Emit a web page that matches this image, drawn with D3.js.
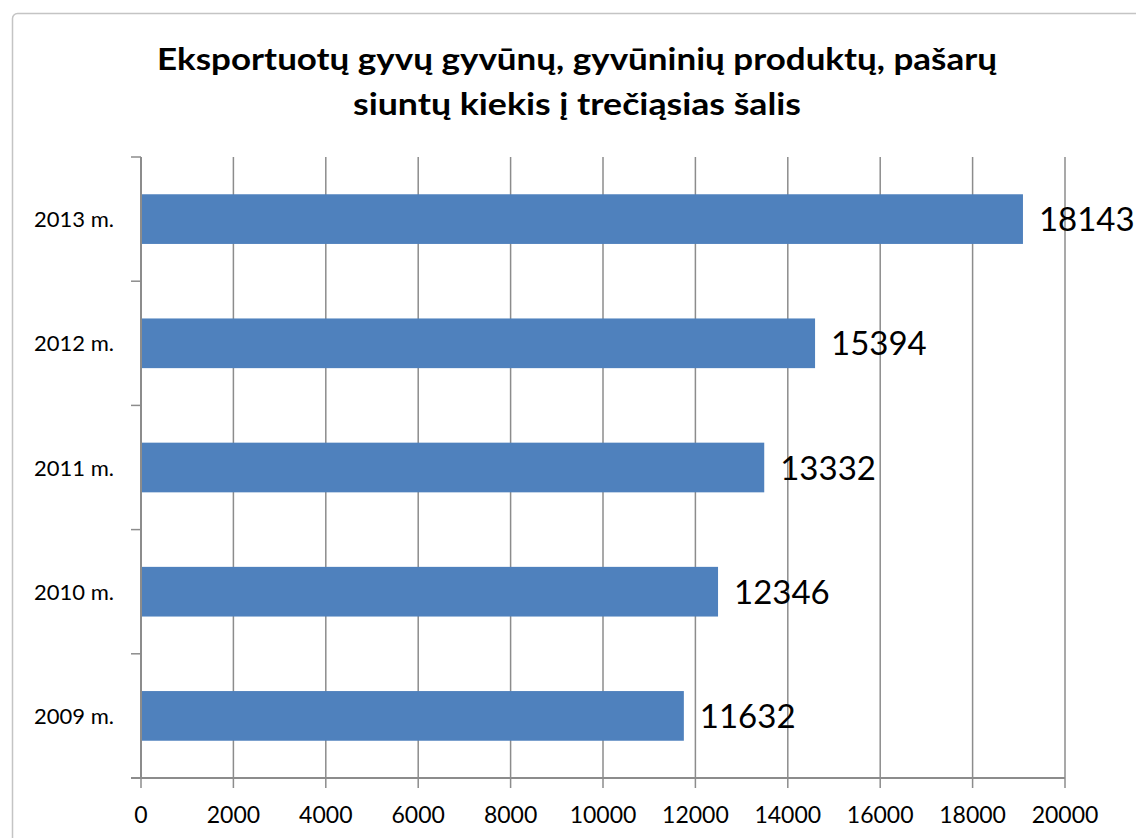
<!DOCTYPE html>
<html><head><meta charset="utf-8">
<script src="https://cdn.jsdelivr.net/npm/d3@7/dist/d3.min.js"></script>
<style>html,body{margin:0;padding:0;background:#fff;}svg{display:block;}</style>
</head><body>
<script>
const categories = ["2009 m.", "2010 m.", "2011 m.", "2012 m.", "2013 m."];
const barValues = [11750, 12490, 13490, 14590, 19090];
const valueLabels = ["11632", "12346", "13332", "15394", "18143"];
const xTicks = [0, 2000, 4000, 6000, 8000, 10000, 12000, 14000, 16000, 18000, 20000];
const titleLines = ["Eksportuotų gyvų gyvūnų, gyvūninių produktų, pašarų", "siuntų kiekis į trečiąsias šalis"];

(function () {
const W = 1136, H = 838;
const mLeft = 141, mRight = 1065, mTop = 157, mBottom = 778;
const font = "Lato, 'Open Sans', sans-serif";
const titleWidths = [840, 448];

const svg = d3.select("body").append("svg").attr("width", W).attr("height", H);

svg.append("rect").attr("x", 12.5).attr("y", 13.5).attr("width", W + 20).attr("height", H + 20)
  .attr("rx", 5).attr("fill", "#fff").attr("stroke", "#c4c4c4").attr("stroke-width", 1.5);

const x = d3.scaleLinear().domain([0, 20000]).range([mLeft, mRight]);
const y = d3.scaleBand().domain(categories.slice().reverse()).range([mTop, mBottom]).paddingInner(0.6).paddingOuter(0.3);
const yEdges = d3.scaleLinear().domain([0, categories.length]).range([mTop, mBottom]);

svg.append("g").selectAll("line").data(xTicks).join("line")
  .attr("x1", d => x(d)).attr("x2", d => x(d))
  .attr("y1", mTop).attr("y2", mBottom + 10)
  .attr("stroke", "#8c8c8c").attr("stroke-width", 1.5);

svg.append("line").attr("x1", mLeft).attr("x2", mLeft).attr("y1", mTop).attr("y2", mBottom)
  .attr("stroke", "#8c8c8c").attr("stroke-width", 2);
svg.append("g").selectAll("line").data(d3.range(categories.length + 1)).join("line")
  .attr("x1", mLeft - 10).attr("x2", mLeft).attr("y1", d => yEdges(d)).attr("y2", d => yEdges(d))
  .attr("stroke", "#8c8c8c").attr("stroke-width", 1.5);

svg.append("line").attr("x1", mLeft - 10).attr("x2", mRight).attr("y1", mBottom).attr("y2", mBottom)
  .attr("stroke", "#8c8c8c").attr("stroke-width", 2);

svg.append("g").selectAll("rect").data(categories).join("rect")
  .attr("x", mLeft + 1).attr("y", d => y(d))
  .attr("width", (d, i) => x(barValues[i]) - mLeft - 1).attr("height", y.bandwidth())
  .attr("fill", "#4f81bd");

svg.append("g").selectAll("text").data(categories).join("text")
  .attr("x", (d, i) => x(barValues[i]) + 16)
  .attr("y", d => y(d) + y.bandwidth() / 2 + 12)
  .attr("font-family", font).attr("font-size", 33).attr("fill", "#000")
  .text((d, i) => valueLabels[i]);

svg.append("g").selectAll("text").data(categories).join("text")
  .attr("x", 114).attr("y", d => y(d) + y.bandwidth() / 2 + 8)
  .attr("text-anchor", "end").attr("font-family", font).attr("font-size", 22).attr("fill", "#000")
  .text(d => d);

svg.append("g").selectAll("text").data(xTicks).join("text")
  .attr("x", d => x(d)).attr("y", 823)
  .attr("text-anchor", "middle").attr("font-family", font).attr("font-size", 23).attr("fill", "#000")
  .text(d => d);

svg.append("g").selectAll("text").data(titleLines).join("text")
  .attr("x", 577).attr("y", (d, i) => 70 + i * 45)
  .attr("text-anchor", "middle").attr("font-family", font).attr("font-weight", "bold")
  .attr("font-size", 31).attr("fill", "#000")
  .attr("textLength", (d, i) => titleWidths[i]).attr("lengthAdjust", "spacingAndGlyphs")
  .text(d => d);
})();
</script>
</body></html>
